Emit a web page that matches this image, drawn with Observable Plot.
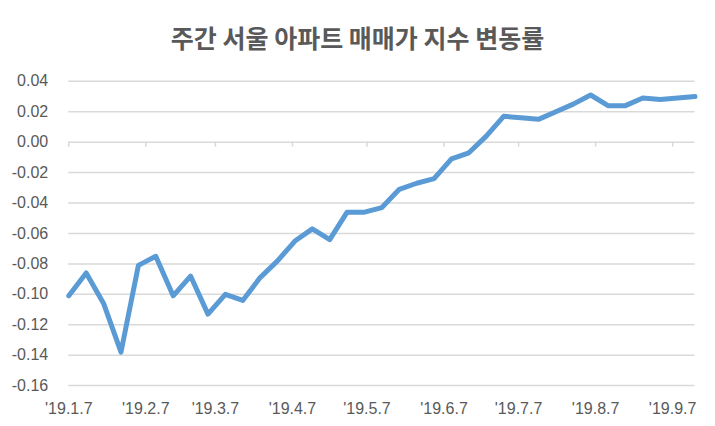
<!DOCTYPE html>
<html>
<head>
<meta charset="utf-8">
<script src="https://cdn.jsdelivr.net/npm/d3@7"></script>
<script src="https://cdn.jsdelivr.net/npm/@observablehq/plot@0.6"></script>
<style>
  html, body { margin: 0; padding: 0; background: #fff; }
  #wrap { width: 715px; height: 426px; overflow: hidden; }
  #title {
    box-sizing: border-box;
    width: 715px; height: 62px; padding-top: 25px;
    text-align: center;
    font-family: "Noto Sans CJK KR", sans-serif;
    font-weight: 700; font-size: 25px; line-height: 24px;
    color: #595959;
  }
  svg { display: block; }
</style>
</head>
<body>
<div id="wrap">
  <div id="title">주간 서울 아파트 매매가 지수 변동률</div>
  <div id="chart"></div>
</div>
<script>
// Weekly dates (Mondays) 2019
const dates = [
  "2019-01-07","2019-01-14","2019-01-21","2019-01-28",
  "2019-02-04","2019-02-11","2019-02-18","2019-02-25",
  "2019-03-04","2019-03-11","2019-03-18","2019-03-25",
  "2019-04-01","2019-04-08","2019-04-15","2019-04-22","2019-04-29",
  "2019-05-06","2019-05-13","2019-05-20","2019-05-27",
  "2019-06-03","2019-06-10","2019-06-17","2019-06-24",
  "2019-07-01","2019-07-08","2019-07-15","2019-07-22","2019-07-29",
  "2019-08-05","2019-08-12","2019-08-19","2019-08-26",
  "2019-09-02","2019-09-09","2019-09-16"
];
const values = [
  -0.101, -0.086, -0.106, -0.138,
  -0.081, -0.075, -0.101, -0.088,
  -0.113, -0.100, -0.104, -0.089,
  -0.078, -0.065, -0.057, -0.064, -0.046,
  -0.046, -0.043, -0.031, -0.027,
  -0.024, -0.011, -0.007, 0.004,
  0.017, 0.016, 0.015, 0.020, 0.025,
  0.031, 0.024, 0.024, 0.029,
  0.028, 0.029, 0.030
];
const xTickDates = ["2019-01-07","2019-02-07","2019-03-07","2019-04-07","2019-05-07","2019-06-07","2019-07-07","2019-08-07","2019-09-07"];
const xTickLabels = ["'19.1.7","'19.2.7","'19.3.7","'19.4.7","'19.5.7","'19.6.7","'19.7.7","'19.8.7","'19.9.7"];
const yTicks = [-0.16, -0.14, -0.12, -0.10, -0.08, -0.06, -0.04, -0.02, 0, 0.02, 0.04];

const data = dates.map((d, i) => ({date: new Date(d + "T00:00:00Z"), value: values[i]}));
const monthTicks = xTickDates.map(d => new Date(d + "T00:00:00Z"));
const labelOf = new Map(monthTicks.map((d, i) => [+d, xTickLabels[i]]));

const chart = Plot.plot({
  width: 715,
  height: 364,
  marginLeft: 68.3,
  marginRight: 20.5,
  marginTop: 18.8,
  marginBottom: 40.9,
  style: {fontFamily: "'Liberation Sans', Arial, sans-serif", fontSize: "16px", color: "#595959", background: "#fff"},
  x: {type: "utc", domain: [data[0].date, data[data.length - 1].date], label: null},
  y: {domain: [-0.16, 0.04], label: null},
  marks: [
    Plot.gridY(yTicks, {stroke: "#d9d9d9", strokeOpacity: 1, strokeWidth: 1.5}),
    Plot.ruleX(monthTicks, {x: d => d, y1: 0, y2: 0, insetBottom: -5, stroke: "#d9d9d9", strokeWidth: 1.5}),
    Plot.axisY(yTicks, {label: null, tickSize: 0, tickPadding: 20.6, tickFormat: d => d.toFixed(2), fill: "#595959", fontSize: 16}),
    Plot.axisX(monthTicks, {label: null, anchor: "bottom", tickSize: 0, tickPadding: 17.5, tickFormat: d => labelOf.get(+d), fill: "#595959", fontSize: 16}),
    Plot.line(data, {x: "date", y: "value", stroke: "#5b9bd5", strokeWidth: 5, strokeLinejoin: "round", strokeLinecap: "round"})
  ]
});
document.getElementById("chart").appendChild(chart);
</script>
</body>
</html>
